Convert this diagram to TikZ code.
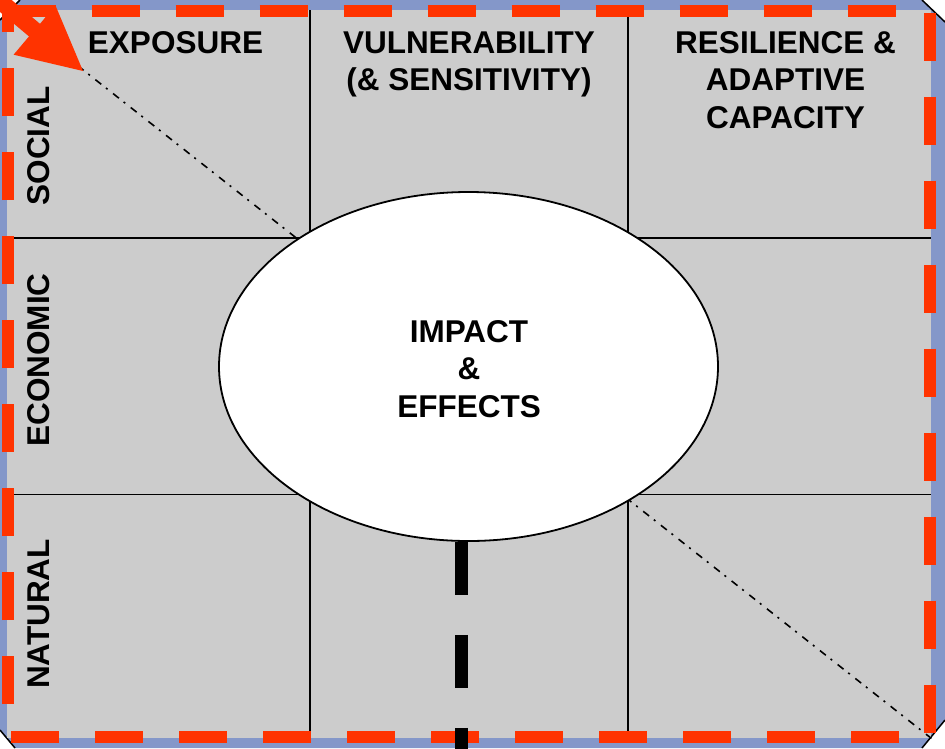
\documentclass[tikz,border=0pt]{standalone}
\usepackage{fontspec}
\setmainfont{Liberation Sans}
\usetikzlibrary{shapes.geometric}
\definecolor{frameblue}{RGB}{132,151,201}
\definecolor{cellgray}{RGB}{204,204,204}
\definecolor{alertred}{RGB}{255,51,0}
\begin{document}
\begin{tikzpicture}[x=1pt,y=-1pt,
  chamfer/.style={black,line width=1.5pt},
  gridline/.style={black,line width=1.4pt},
  diag/.style={black,line width=1.6pt,dash pattern=on 7.5pt off 6pt on 2pt off 7pt},
  redframe/.style={alertred,line width=12pt,dash pattern=on 48pt off 36pt},
  splitline/.style={black,line width=13pt,dash pattern=on 53pt off 40pt},
  lbl/.style={inner sep=0pt,anchor=base,font=\fontsize{31.5}{37.8}\selectfont\bfseries},
  rowlbl/.style={lbl,rotate=90}]
\useasboundingbox (0,0) rectangle (945,748);
\fill[white] (0,0) rectangle (945,748);

% outer frame with cut corners
\fill[frameblue] (0,20) -- (20,0) -- (922,0) -- (945,22) -- (945,720)
  -- (922,748) -- (15,748) -- (0,730) -- cycle;
\draw[chamfer] (0,20) -- (20,0);
\draw[chamfer] (922,0) -- (945,22);
\draw[chamfer] (945,720) -- (922,748);
\draw[chamfer] (15,748) -- (0,730);

% grey field
\node[fill=cellgray,minimum width=924pt,minimum height=728pt,inner sep=0pt,
  anchor=north west] (field) at (7,10) {};

% 3x3 grid
\coordinate (c1t) at (310,10);  \coordinate (c1b) at (310,738);
\coordinate (c2t) at (628,10);  \coordinate (c2b) at (628,738);
\coordinate (r1l) at (7,238);   \coordinate (r1r) at (931,238);
\coordinate (r2l) at (7,494.5); \coordinate (r2r) at (931,494.5);
\draw[gridline] (c1t) -- (c1b);
\draw[gridline] (c2t) -- (c2b);
\draw[gridline] (r1l) -- (r1r);
\draw[gridline] (r2l) -- (r2r);

% diagonal across the field
\draw[diag] (field.north west) -- (field.south east);

% central ellipse
\node[draw,ellipse,fill=white,line width=1.8pt,minimum width=499pt,
  minimum height=349pt,inner sep=0pt] (impact) at (468.5,366.5) {};
\node[lbl] (impacttxt) at (469,342)
  {\begin{tabular}[t]{@{}c@{}}IMPACT\\\&\\EFFECTS\end{tabular}};

% column headings
\node[lbl] (exposure) at (175.5,53) {EXPOSURE};
\node[lbl] (vuln) at (469,53)
  {\begin{tabular}[t]{@{}c@{}}VULNERABILITY\\(\& SENSITIVITY)\end{tabular}};
\node[lbl] (resil) at (785.5,53)
  {\begin{tabular}[t]{@{}c@{}}RESILIENCE \&\\ADAPTIVE\\CAPACITY\end{tabular}};

% row headings
\node[rowlbl] (social) at (49,146) {SOCIAL};
\node[rowlbl] (economic) at (49,360) {ECONOMIC};
\node[rowlbl] (natural) at (49,614) {NATURAL};

% red dashed border
\coordinate (rtl) at (7.5,11);
\coordinate (rtr) at (930,11);
\coordinate (rbr) at (930,737);
\coordinate (rbl) at (7.5,737);
\draw[redframe] (rtl) -- (rtr) -- (rbr) -- (rbl) -- cycle;

% thick dashed split below the ellipse
\coordinate (splitend) at (461.7,760);
\draw[splitline] (impact.south -| splitend) -- (splitend);

% red arrow in the top left corner
\fill[alertred] (-14,-21.6) -- (40,23.8) -- (55.4,5.3) -- (83,71)
  -- (13.6,54.7) -- (29,36.4) -- (-25,-9) -- cycle;
\end{tikzpicture}
\end{document}
